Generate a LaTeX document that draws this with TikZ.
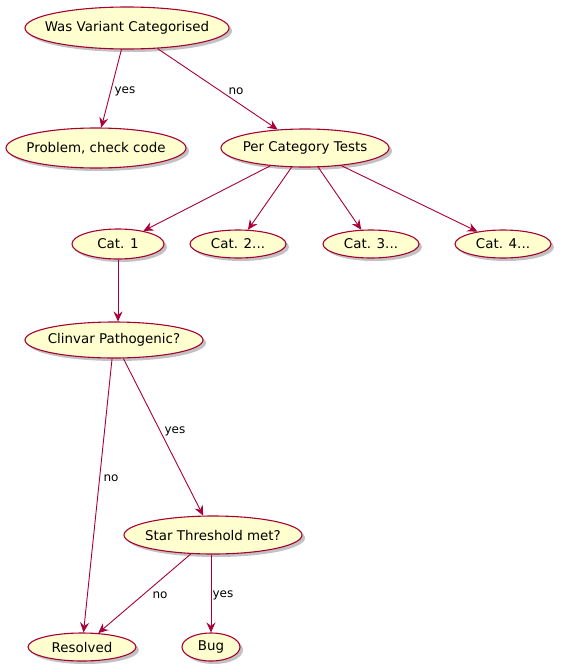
\documentclass[tikz,border=0pt]{standalone}
\usepackage{fontspec}
\setmainfont{DejaVu Sans}
\usetikzlibrary{shapes.geometric,shadows,arrows.meta}
\definecolor{umlred}{HTML}{A80036}
\definecolor{umlyellow}{HTML}{FEFECE}
\newcommand{\uctext}[1]{\makebox[0pt][c]{#1}}
\tikzset{
  uc/.style={ellipse, draw=umlred, fill=umlyellow, line width=1.1pt, inner sep=0pt,
    font=\fontsize{13.4}{15}\selectfont,
    drop shadow={shadow xshift=3pt, shadow yshift=-3pt, opacity=0.4, fill=black!60}},
  flow/.style={draw=umlred, line width=0.9pt, -{Stealth[inset=3.5pt,length=10pt,width=9pt]}},
  lbl/.style={font=\fontsize{12}{14}\selectfont, inner sep=1pt}
}
\begin{document}
\begin{tikzpicture}[x=1pt,y=-1pt]
\useasboundingbox (0,0) rectangle (562,672);
\node[uc, minimum width=204pt, minimum height=42pt] (was) at (127,28) {\uctext{Was Variant Categorised}};
\node[uc, minimum width=180pt, minimum height=40pt] (prob) at (96,148) {\uctext{Problem, check code}};
\node[uc, minimum width=168pt, minimum height=38pt] (per) at (305,148) {\uctext{Per Category Tests}};
\node[uc, minimum width=92pt, minimum height=30pt] (c1) at (118,244) {\uctext{Cat. 1}};
\node[uc, minimum width=96pt, minimum height=28pt] (c2) at (238,244) {\uctext{Cat. 2...}};
\node[uc, minimum width=96pt, minimum height=28pt] (c3) at (371,244) {\uctext{Cat. 3...}};
\node[uc, minimum width=96pt, minimum height=28pt] (c4) at (503,244) {\uctext{Cat. 4...}};
\node[uc, minimum width=178pt, minimum height=36pt] (clin) at (114,340) {\uctext{Clinvar Pathogenic?}};
\node[uc, minimum width=178pt, minimum height=38pt] (star) at (213,535) {\uctext{Star Threshold met?}};
\node[uc, minimum width=108pt, minimum height=28pt] (res) at (82,647) {\uctext{Resolved}};
\node[uc, minimum width=58pt, minimum height=28pt] (bug) at (211,647) {\uctext{Bug}};

\draw[flow] (was) -- (prob);
\draw[flow] (was) -- (per);
\draw[flow] (per) -- (c1);
\draw[flow] (per) -- (c2);
\draw[flow] (per) -- (c3);
\draw[flow] (per) -- (c4);
\draw[flow] (c1.south) -- (c1.south |- clin.north);
\draw[flow] (clin) -- (res);
\draw[flow] (clin) -- (star);
\draw[flow] (star) -- (res);
\draw[flow] (star.south -| bug) -- (bug);

\node[lbl] (l1) at (125,91) {yes};
\node[lbl] (l2) at (236,91) {no};
\node[lbl] (l3) at (111,478) {no};
\node[lbl] (l4) at (175,431) {yes};
\node[lbl] (l5) at (160,595) {no};
\node[lbl] (l6) at (223,595) {yes};
\end{tikzpicture}
\end{document}
